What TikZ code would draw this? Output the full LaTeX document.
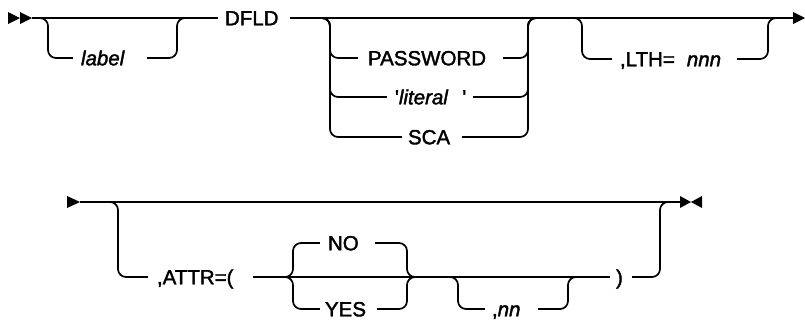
\documentclass[tikz,border=0pt]{standalone}
\usepackage{fontspec}
\setmainfont{Liberation Sans}[FakeBold=1.8,BoldFont={Liberation Sans},BoldFeatures={FakeBold=1.8}]
\newcommand{\rrbox}[3]{\makebox[#1][l]{\hspace*{#2}#3}}
\begin{document}
\begin{tikzpicture}[x=1pt,y=-1pt,line width=1.7pt,
  rail/.style={draw,rounded corners=8pt},
  txt/.style={fill=white,inner sep=0pt,text height=14.6pt,text depth=0pt,
    font=\fontsize{20.5}{24}\selectfont\bfseries},
  tipmark/.style={fill=black,draw=none}]
\useasboundingbox (0,0) rectangle (805,322);

% ---------- top row ----------
\coordinate (s1) at (32,18);
\coordinate (e1) at (793,18);
\fill[tipmark] (8,12) -- (20,18) -- (8,24) -- cycle;
\fill[tipmark] (20,12) -- (32,18) -- (20,24) -- cycle;
\draw (s1) -- (e1);
\fill[tipmark] (e1) ++(0,-6) -- (805,18) -- (793,24) -- cycle;

% optional label
\coordinate (lbA) at (40,18);
\coordinate (lbB) at (185,18);
\draw[rail] (lbA) -- (48,18) -- (48,58) -- (177,58) -- (177,18) -- (lbB);
\node[txt] (label) at (110,58) {\rrbox{74pt}{8pt}{\itshape label}};

% keyword
\node[txt] (dfld) at (254,18) {\rrbox{72pt}{7pt}{DFLD}};

% choice
\coordinate (chA) at (322,18);
\coordinate (chB) at (536,18);
\draw[rail] (chA) -- (330,18) -- (330,58) -- (528,58) -- (528,18) -- (chB);
\draw[rail] (chA) -- (330,18) -- (330,97) -- (528,97) -- (528,18) -- (chB);
\draw[rail] (chA) -- (330,18) -- (330,137) -- (528,137) -- (528,18) -- (chB);
\node[txt] (pw) at (430.5,58) {\rrbox{145pt}{10pt}{PASSWORD}};
\node[txt] (lit) at (430,97) {\rrbox{86pt}{8pt}{\textquotesingle\textit{literal}\hspace{14pt}\textquotesingle}};
\node[txt] (sca) at (432,137) {\rrbox{60pt}{6pt}{SCA}};

% optional LTH
\coordinate (ltA) at (573,18);
\coordinate (ltB) at (776,18);
\draw[rail] (ltA) -- (582,18) -- (582,59) -- (768,59) -- (768,18) -- (ltB);
\node[txt] (lth) at (674.5,59) {\rrbox{125pt}{8pt}{,LTH=\hspace{12pt}\textit{nnn}}};

% ---------- bottom row ----------
\coordinate (s2) at (80,202);
\coordinate (e2) at (680,202);
\fill[tipmark] (67,196) -- (s2) -- (67,208) -- cycle;
\draw (s2) -- (e2);
\fill[tipmark] (e2) ++(0,-6) -- (691,202) -- (680,208) -- cycle;
\fill[tipmark] (702,196) -- (691,202) -- (702,208) -- cycle;

% optional ATTR
\coordinate (atA) at (110,202);
\coordinate (atB) at (668,202);
\draw[rail] (atA) -- (118,202) -- (118,277) -- (660,277) -- (660,202) -- (atB);
\node[txt] (attr) at (200.5,277) {\rrbox{105pt}{9pt}{,ATTR=(}};

% NO / YES choice
\coordinate (brA) at (283,277);
\coordinate (brB) at (417,277);
\draw[rail] (brA) -- (293,277) -- (293,243) -- (407,243) -- (407,277) -- (brB);
\draw[rail] (brA) -- (293,277) -- (293,309) -- (407,309) -- (407,277) -- (brB);
\node[txt] (no) at (347.5,243) {\rrbox{55pt}{8pt}{NO}};
\node[txt] (yes) at (348.5,309) {\rrbox{57pt}{5pt}{YES}};

% optional ,nn
\coordinate (nnA) at (450,277);
\coordinate (nnB) at (577,277);
\draw[rail] (nnA) -- (458,277) -- (458,309) -- (568,309) -- (568,277) -- (nnB);
\node[txt] (nn) at (511.5,309) {\rrbox{53pt}{7pt}{,\textit{nn}}};

\node[txt] (rp) at (621,277) {\rrbox{22pt}{6pt}{)}};
\end{tikzpicture}
\end{document}
